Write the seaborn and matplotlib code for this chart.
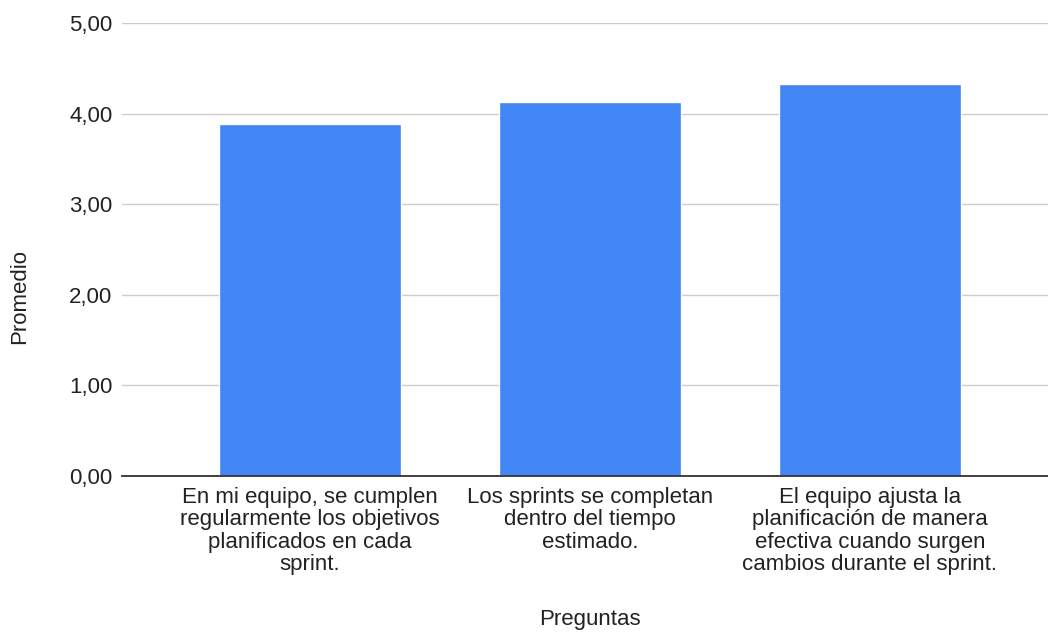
import pandas as pd
import matplotlib
matplotlib.use("Agg")
import matplotlib.pyplot as plt
import seaborn as sns

# Data
preguntas = [
    "En mi equipo, se cumplen regularmente los objetivos planificados en cada sprint.",
    "Los sprints se completan dentro del tiempo estimado.",
    "El equipo ajusta la planificación de manera efectiva cuando surgen cambios durante el sprint.",
]
promedio = [3.88, 4.13, 4.33]
tick_labels = [
    "En mi equipo, se cumplen\nregularmente los objetivos\nplanificados en cada\nsprint.",
    "Los sprints se completan\ndentro del tiempo\nestimado.",
    "El equipo ajusta la\nplanificación de manera\nefectiva cuando surgen\ncambios durante el sprint.",
]
y_ticks = [0, 1, 2, 3, 4, 5]

df = pd.DataFrame({"Preguntas": preguntas, "Promedio": promedio})

sns.set_style("white")
plt.rcParams["font.family"] = ["Liberation Sans", "DejaVu Sans"]

fig = plt.figure(figsize=(10.48, 6.32), dpi=100)
ax = fig.add_axes([122 / 1048, (632 - 476) / 632, (1048 - 122) / 1048, 453 / 632])

sns.barplot(data=df, x="Preguntas", y="Promedio", color="#4285F4", saturation=1,
            width=0.65, ax=ax, zorder=2)

ax.set_ylim(0, 5)
ax.set_xlim(-0.671, 2.636)
ax.set_yticks(y_ticks)
ax.set_yticklabels([f"{v:.2f}".replace(".", ",") for v in y_ticks], fontsize=16, color="#222222")
ax.set_xticks(range(len(tick_labels)))
ax.set_xticklabels(tick_labels, fontsize=16, color="#222222", linespacing=1.08)
ax.tick_params(axis="y", length=0, pad=7)
ax.tick_params(axis="x", length=0, pad=8)

# Gridlines
ax.grid(axis="y", color="#cccccc", linewidth=1, zorder=0)
ax.set_axisbelow(True)

for side in ["top", "right", "left"]:
    ax.spines[side].set_visible(False)
ax.spines["bottom"].set_color("#333333")
ax.spines["bottom"].set_linewidth(1.3)
ax.spines["bottom"].set_zorder(3)

ax.set_xlabel("Preguntas", fontsize=16, color="#222222")
ax.set_ylabel("Promedio", fontsize=16, color="#222222")
ax.xaxis.set_label_coords((590 - 122) / 926, (476 - 620) / 453)
ax.yaxis.set_label_coords((20 - 122) / 926, (476 - 296) / 453)
ax.xaxis.label.set_va("center")
ax.yaxis.label.set_va("center")

fig.savefig("out.png", dpi=100)
